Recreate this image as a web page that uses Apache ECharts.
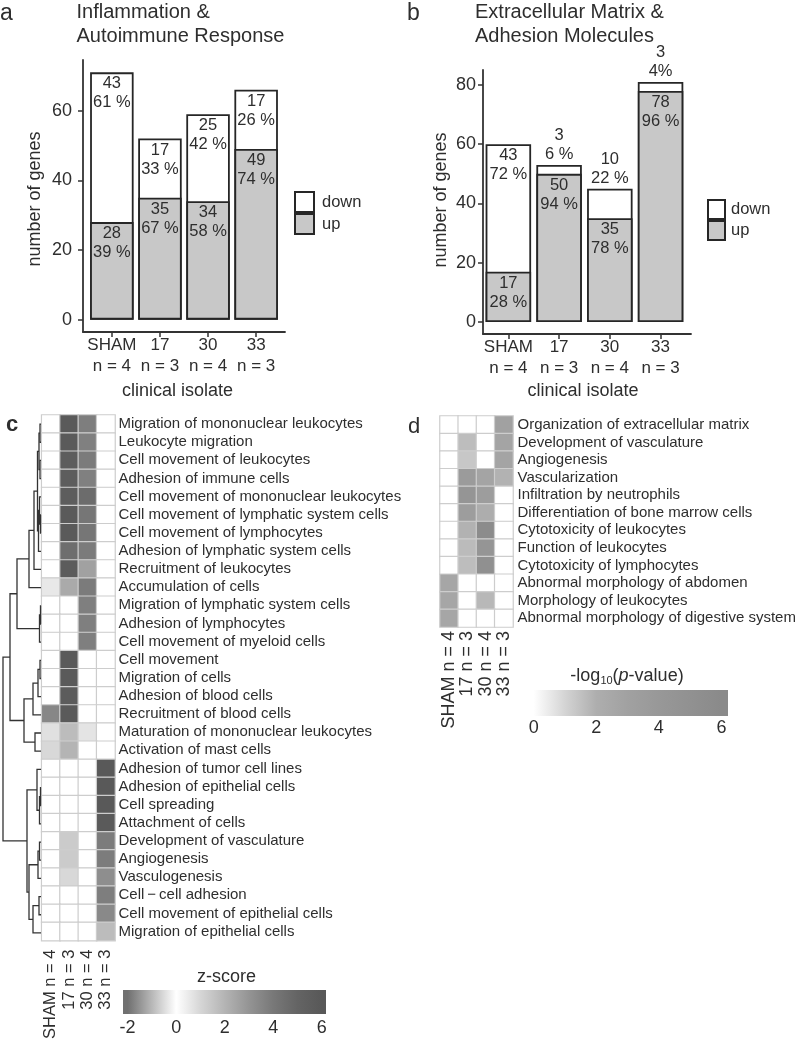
<!DOCTYPE html>
<html><head><meta charset="utf-8">
<script src="https://cdn.jsdelivr.net/npm/echarts@6/dist/echarts.min.js"></script>
<style>html,body{margin:0;padding:0;background:#fff}#c{width:800px;height:1042px}</style>
</head><body><div id="c"></div>
<script>
// ---------- DATA ----------
const categories = ['SHAM', '17', '30', '33'];
const sampleSizes = ['n = 4', 'n = 3', 'n = 4', 'n = 3'];

const aUp = [28, 35, 34, 49];
const aDown = [43, 17, 25, 17];
const aUpPct = ['39 %', '67 %', '58 %', '74 %'];
const aDownPct = ['61 %', '33 %', '42 %', '26 %'];

const bUp = [17, 50, 35, 78];
const bDown = [43, 3, 10, 3];
const bUpPct = ['28 %', '94 %', '78 %', '96 %'];
const bDownPct = ['72 %', '6 %', '22 %', '4%'];

const barTicksA = [0, 20, 40, 60];
const barTicksB = [0, 20, 40, 60, 80];

const heatCols = ['SHAM n = 4', '17 n = 3', '30 n = 4', '33 n = 3'];

const cTerms = [
  'Migration of mononuclear leukocytes', 'Leukocyte migration', 'Cell movement of leukocytes',
  'Adhesion of immune cells', 'Cell movement of mononuclear leukocytes',
  'Cell movement of lymphatic system cells', 'Cell movement of lymphocytes',
  'Adhesion of lymphatic system cells', 'Recruitment of leukocytes', 'Accumulation of cells',
  'Migration of lymphatic system cells', 'Adhesion of lymphocytes', 'Cell movement of myeloid cells',
  'Cell movement', 'Migration of cells', 'Adhesion of blood cells', 'Recruitment of blood cells',
  'Maturation of mononuclear leukocytes', 'Activation of mast cells', 'Adhesion of tumor cell lines',
  'Adhesion of epithelial cells', 'Cell spreading', 'Attachment of cells', 'Development of vasculature',
  'Angiogenesis', 'Vasculogenesis', 'Cell\u2009\u2212\u2009cell adhesion', 'Cell movement of epithelial cells',
  'Migration of epithelial cells'
];
// z-scores, columns: SHAM, 17, 30, 33
const cValues = [
  [0, 5.8, 3.8, 0], [0, 5.8, 3.7, 0], [0, 5.6, 3.9, 0], [0, 5.6, 3.7, 0], [0, 5.6, 4.6, 0],
  [0, 5.8, 4.1, 0], [0, 5.8, 4.1, 0], [0, 4.5, 3.9, 0], [0, 5.7, 2.6, 0], [0.56, 2.3, 3.9, 0],
  [0, 0, 3.75, 0], [0, 0, 3.75, 0], [0, 0, 3.75, 0], [0, 5.8, 0, 0], [0, 5.8, 0, 0],
  [0, 5.7, 0, 0], [3.45, 5.8, 0, 0], [0.75, 1.76, 0.65, 0], [0.95, 2.0, 0, 0], [0, 0, 0, 5.9],
  [0, 0, 0, 5.9], [0, 0, 0, 5.9], [0, 0, 0, 5.8], [0, 1.32, 0, 3.85], [0, 1.32, 0, 3.85],
  [0, 0.95, 0, 3.2], [0, 0, 0, 3.78], [0, 0, 0, 3.4], [0, 0, 0, 1.76]
];
// dendrogram merges (hclust style: negative = leaf row, positive = earlier merge), height
const cMerge = [
  [-1, -2, 1.0], [-3, -4, 1.0], [1, 2, 2.0], [-6, -7, 0.5], [-5, 4, 1.5], [5, -8, 2.5],
  [3, 6, 3.5], [7, -9, 7], [8, -10, 12], [-11, -12, 0.5], [10, -13, 1.5], [9, 11, 24],
  [-14, -15, 1.0], [13, -16, 3], [14, -17, 8], [-18, -19, 6], [15, 16, 17], [12, 17, 31],
  [-21, -22, 0.5], [19, -23, 1.5], [-20, 20, 4], [-24, -25, 1.5], [22, -26, 3],
  [-27, -28, 2], [24, -29, 8], [23, 25, 12], [21, 26, 14], [18, 27, 38]
];

const dTerms = [
  'Organization of extracellular matrix', 'Development of vasculature', 'Angiogenesis',
  'Vascularization', 'Infiltration by neutrophils', 'Differentiation of bone marrow cells',
  'Cytotoxicity of leukocytes', 'Function of leukocytes', 'Cytotoxicity of lymphocytes',
  'Abnormal morphology of abdomen', 'Morphology of leukocytes', 'Abnormal morphology of digestive system'
];
// -log10(p-value), columns: SHAM, 17, 30, 33
const dValues = [
  [0, 0, 0, 3.0], [0, 1.6, 0, 2.8], [0, 1.35, 0, 2.8], [0, 3.7, 2.8, 1.9],
  [0, 4.4, 3.5, 0], [0, 3.5, 2.1, 0], [0, 1.9, 5.7, 0], [0, 1.65, 4.4, 0],
  [0, 1.6, 5.1, 0], [2.6, 0, 0, 0], [2.6, 0, 1.75, 0], [2.6, 0, 0, 0]
];

const zTicks = [-2, 0, 2, 4, 6];
const pTicks = [0, 2, 4, 6];

// ---------- STYLE ----------
const FONT = '"Liberation Sans", Arial, Helvetica, sans-serif';
const TXT = '#2e2e2e';
const gray = g => `rgb(${g},${g},${g})`;
const zGrays = [112, 184, 255, 214, 180, 148, 120, 100, 88];   // at -2..6
const pGrays = [255, 212, 174, 161, 152, 145, 138];            // at 0..6
const zColors = zGrays.map(gray);
const pColors = pGrays.map(gray);

function gradientStops(vMin, vMax, sMin, sMax, colors) {
  const stops = [];
  const n = colors.length;
  stops.push({ offset: 0, color: colors[0] });
  colors.forEach((c, i) => {
    const v = vMin + (vMax - vMin) * i / (n - 1);
    stops.push({ offset: (v - sMin) / (sMax - sMin), color: c });
  });
  stops.push({ offset: 1, color: colors[n - 1] });
  return stops;
}

function dendroSegments(merge) {
  const pos = [], hts = [], segs = [];
  const get = id => id < 0 ? { y: -id - 1, h: 0 } : { y: pos[id - 1], h: hts[id - 1] };
  merge.forEach(([a, b, h], k) => {
    const A = get(a), B = get(b);
    pos[k] = (A.y + B.y) / 2; hts[k] = h;
    segs.push([A.y, B.y, A.h, B.h, h]);
  });
  return segs;
}

const heatData = vals => {
  const out = [];
  vals.forEach((row, r) => row.forEach((v, c) => out.push([c, r, v])));
  return out;
};

const axisLineStyle = { color: '#333', width: 1.8 };

function barXAxis(grid, min, max) {
  return {
    type: 'value', gridIndex: grid, min, max,
    axisLine: { show: true, onZero: false, lineStyle: axisLineStyle },
    axisTick: { show: true, customValues: [0, 1, 2, 3], length: 5, lineStyle: { color: '#333', width: 1.5 } },
    axisLabel: {
      customValues: [0, 1, 2, 3], margin: 3, fontSize: 17, lineHeight: 21, color: TXT, fontFamily: FONT,
      formatter: v => categories[Math.round(v)] + '\n' + sampleSizes[Math.round(v)]
    },
    splitLine: { show: false }
  };
}
function barYAxis(grid, min, max, ticks, margin) {
  return {
    type: 'value', gridIndex: grid, min, max,
    axisLine: { show: true, onZero: false, lineStyle: axisLineStyle },
    axisTick: { show: true, customValues: ticks, length: 5, lineStyle: { color: '#333', width: 1.5 } },
    axisLabel: { customValues: ticks, margin, fontSize: 18, color: TXT, fontFamily: FONT },
    splitLine: { show: false }
  };
}

const labelBase = { show: true, color: TXT, fontSize: 16.5, lineHeight: 19, fontFamily: FONT };

function barSeries(xi, up, down, upPct, downPct, width) {
  const downItems = up.map((u, i) => {
    const small = down[i] < 12;
    return {
      value: [i, u + down[i]],
      label: { position: small ? 'top' : 'insideTop', distance: small ? 1 : 2 }
    };
  });
  return [
    {
      type: 'bar', name: 'down', xAxisIndex: xi, yAxisIndex: xi, barWidth: width, barGap: '-100%',
      data: downItems,
      itemStyle: { color: '#ffffff', borderColor: '#262626', borderWidth: 1.8 },
      label: Object.assign({}, labelBase, { formatter: p => down[p.dataIndex] + '\n' + downPct[p.dataIndex] }),
      emphasis: { disabled: true }, silent: true
    },
    {
      type: 'bar', name: 'up', xAxisIndex: xi, yAxisIndex: xi, barWidth: width, barGap: '-100%',
      data: up.map((u, i) => [i, u]),
      itemStyle: { color: '#c8c8c8', borderColor: '#262626', borderWidth: 1.8 },
      label: Object.assign({}, labelBase, { position: 'insideTop', distance: 2,
        formatter: p => up[p.dataIndex] + '\n' + upPct[p.dataIndex] }),
      emphasis: { disabled: true }, silent: true
    }
  ];
}

const CB_C = [-2.19, 6.17];
const CB_D = [-0.18, 6.21];

function colorbarSeries(xi, yi, range, stops) {
  return {
    type: 'custom', xAxisIndex: xi, yAxisIndex: yi, silent: true,
    data: [[range[0], 0]],
    renderItem: (params, api) => {
      const p0 = api.coord([range[0], 1]);
      const p1 = api.coord([range[1], 0]);
      return {
        type: 'rect',
        shape: { x: p0[0], y: p0[1], width: p1[0] - p0[0], height: p1[1] - p0[1] },
        style: { fill: new echarts.graphic.LinearGradient(0, 0, 1, 0, stops) }
      };
    }
  };
}

function heatXAxis(grid, margin, fontSize) {
  return {
    type: 'category', gridIndex: grid, data: heatCols,
    axisLine: { show: false }, axisTick: { show: false }, splitLine: { show: false },
    axisLabel: { rotate: 90, margin, fontSize, color: TXT, fontFamily: FONT, interval: 0 }
  };
}
function heatYAxis(grid, terms, margin) {
  return {
    type: 'category', gridIndex: grid, data: terms, inverse: true, position: 'right',
    axisLine: { show: false }, axisTick: { show: false }, splitLine: { show: false },
    axisLabel: { margin, fontSize: 15, color: TXT, fontFamily: FONT, interval: 0 }
  };
}

function cbXAxis(grid, range, ticks, pos, showLabel, margin) {
  return {
    type: 'value', gridIndex: grid, min: range[0], max: range[1], position: pos,
    axisLine: { show: false },
    axisTick: { show: true, inside: true, customValues: ticks, length: 4, lineStyle: { color: '#ffffff', width: 1.5 } },
    axisLabel: { show: showLabel, customValues: ticks, margin, fontSize: 18, color: TXT, fontFamily: FONT },
    splitLine: { show: false }
  };
}
const hiddenY = grid => ({ type: 'value', gridIndex: grid, min: 0, max: 1, show: false });

const txt = (text, x, y, size, extra) => Object.assign({
  type: 'text', x, y, silent: true,
  style: Object.assign({ text, fill: TXT, font: `${size}px ${FONT}`, align: 'left', verticalAlign: 'middle' }, extra || {})
});

const option = {
  animation: false,
  backgroundColor: '#fff',
  grid: [
    { left: 83, top: 60, width: 202, height: 272 },        // 0 a
    { left: 483, top: 70, width: 208, height: 264 },       // 1 b
    { left: 41.7, top: 415, width: 73.3, height: 527 },    // 2 c heat
    { left: 3, top: 415, width: 38, height: 527 },         // 3 dendrogram
    { left: 123, top: 990, width: 203, height: 24 },       // 4 c colorbar
    { left: 440, top: 416, width: 73, height: 211 },       // 5 d heat
    { left: 528, top: 690, width: 200, height: 26 }        // 6 d colorbar
  ],
  xAxis: [
    barXAxis(0, -0.6, 3.6),                                  // 0
    barXAxis(1, -0.5, 3.6),                                  // 1
    heatXAxis(2, 9, 16.5),                                   // 2
    { type: 'value', gridIndex: 3, min: 0, max: 38, inverse: true, show: false }, // 3
    cbXAxis(4, CB_C, zTicks, 'bottom', true, 5),             // 4
    cbXAxis(4, CB_C, zTicks, 'top', false, 5),               // 5
    heatXAxis(5, 4, 18),                                     // 6
    cbXAxis(6, CB_D, pTicks, 'bottom', true, 3)              // 7
  ],
  yAxis: [
    barYAxis(0, -3.55, 74.55, barTicksA, 11),                // 0
    barYAxis(1, -4.05, 85.05, barTicksB, 7),                 // 1
    heatYAxis(2, cTerms, 3.5),                               // 2
    { type: 'value', gridIndex: 3, min: -0.5, max: 28.5, inverse: true, show: false }, // 3
    hiddenY(4),                                              // 4
    heatYAxis(5, dTerms, 4.5),                               // 5
    hiddenY(6)                                               // 6
  ],
  legend: [
    { data: ['down', 'up'], orient: 'vertical', left: 289, top: 186, itemGap: 0, itemWidth: 19, itemHeight: 20,
      icon: 'rect', selectedMode: false, textStyle: { fontSize: 16.5, color: TXT, fontFamily: FONT, padding: [0, 0, 0, 3] } },
    { data: ['down', 'up'], orient: 'vertical', left: 702, top: 194, itemGap: 0, itemWidth: 17, itemHeight: 19,
      icon: 'rect', selectedMode: false, textStyle: { fontSize: 16.5, color: TXT, fontFamily: FONT, padding: [0, 0, 0, 1] } }
  ],
  visualMap: [
    { type: 'continuous', show: false, seriesIndex: 4, dimension: 2, min: -2, max: 6, inRange: { color: zColors } },
    { type: 'continuous', show: false, seriesIndex: 7, dimension: 2, min: 0, max: 6, inRange: { color: pColors } }
  ],
  series: [
    ...barSeries(0, aUp, aDown, aUpPct, aDownPct, 43.5),     // 0,1
    ...barSeries(1, bUp, bDown, bUpPct, bDownPct, 45.5),     // 2,3
    {                                                         // 4 c heat
      type: 'heatmap', xAxisIndex: 2, yAxisIndex: 2, data: heatData(cValues), silent: true,
      itemStyle: { borderColor: '#cdcdcd', borderWidth: 1.2 }, emphasis: { disabled: true }
    },
    {                                                         // 5 dendrogram
      type: 'custom', xAxisIndex: 3, yAxisIndex: 3, silent: true,
      data: dendroSegments(cMerge),
      renderItem: (params, api) => {
        const yA = api.value(0), yB = api.value(1), hA = api.value(2), hB = api.value(3), h = api.value(4);
        return {
          type: 'polyline',
          shape: { points: [api.coord([hA, yA]), api.coord([h, yA]), api.coord([h, yB]), api.coord([hB, yB])] },
          style: { stroke: '#333', lineWidth: 1.3, fill: null }
        };
      }
    },
    colorbarSeries(4, 4, CB_C, gradientStops(-2, 6, CB_C[0], CB_C[1], zColors)), // 6
    {                                                         // 7 d heat
      type: 'heatmap', xAxisIndex: 6, yAxisIndex: 5, data: heatData(dValues), silent: true,
      itemStyle: { borderColor: '#cdcdcd', borderWidth: 1.2 }, emphasis: { disabled: true }
    },
    colorbarSeries(7, 6, CB_D, gradientStops(0, 6, CB_D[0], CB_D[1], pColors))   // 8
  ],
  graphic: [
    txt('a', 0, 14, 23),
    txt('Inflammation &\nAutoimmune Response', 76.5, 24.5, 20, { lineHeight: 24 }),
    txt('b', 407, 13.5, 23),
    txt('Extracellular Matrix &\nAdhesion Molecules', 475, 24, 20, { lineHeight: 24 }),
    Object.assign(txt('number of genes', 0, 0, 18, { align: 'center' }), { x: 35, y: 199, rotation: Math.PI / 2 }),
    Object.assign(txt('number of genes', 0, 0, 18, { align: 'center' }), { x: 441, y: 200, rotation: Math.PI / 2 }),
    txt('clinical isolate', 177.5, 391.5, 18, { align: 'center' }),
    txt('clinical isolate', 583, 391.5, 18, { align: 'center' }),
    txt('c', 6, 425, 22, { font: `bold 22px ${FONT}` }),
    txt('d', 408, 427, 22),
    txt('z-score', 226.5, 977.5, 18, { align: 'center' }),
    {
      type: 'text', x: 627, y: 676, silent: true,
      style: {
        text: '{a|-log}{s|10}{a|(}{i|p}{a|-value)}', align: 'center', verticalAlign: 'middle',
        rich: {
          a: { fontSize: 18, fontFamily: FONT, fill: TXT, lineHeight: 22 },
          s: { fontSize: 11, fontFamily: FONT, fill: TXT, lineHeight: 22, padding: [9, 0, 0, 0] },
          i: { fontSize: 18, fontFamily: FONT, fill: TXT, fontStyle: 'italic', lineHeight: 22 }
        }
      }
    }
  ]
};

const chart = echarts.init(document.getElementById('c'), null, { renderer: 'canvas', width: 800, height: 1042 });
chart.setOption(option);
</script>
</body></html>
